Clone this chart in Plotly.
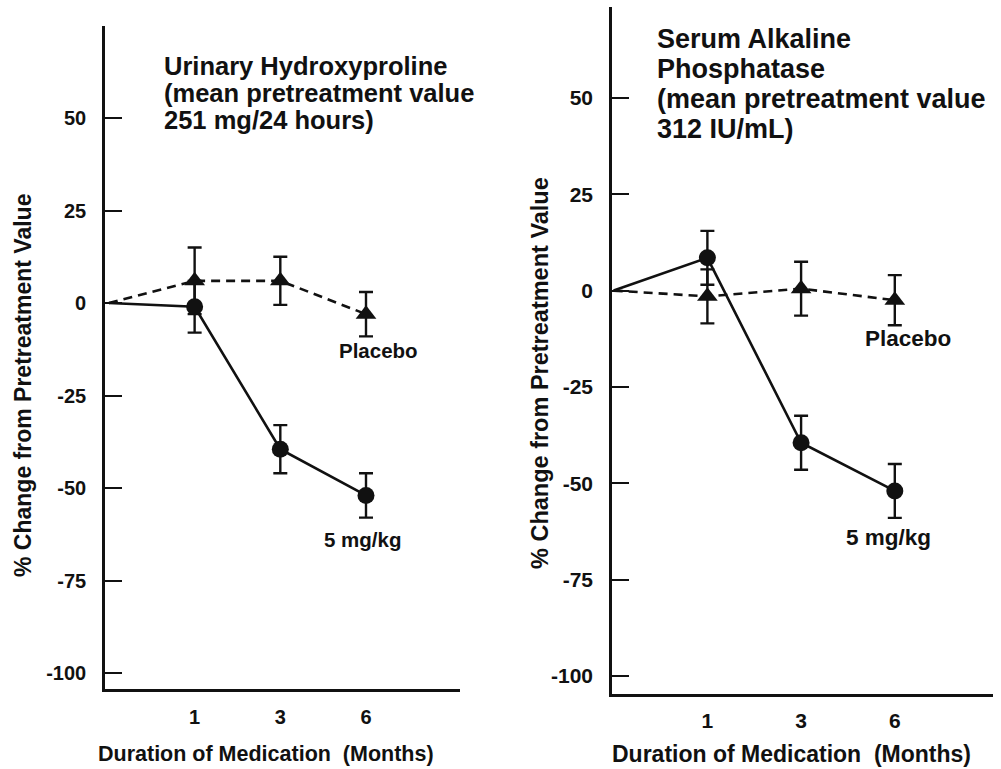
import plotly.graph_objects as go

# ---- data ----
months = [0, 1, 3, 6]                 # sampling times (months); shown at equal spacing
month_labels = ["1", "3", "6"]
y_ticks_left = [-100, -75, -50, -25, 0, 25, 50, 75]
y_ticks_right = [-100, -75, -50, -25, 0, 25, 50]

# Urinary hydroxyproline (% change)
uh_drug = [0, -1, -39.5, -52]
uh_drug_err = [0, 7, 6.5, 6]
uh_placebo = [0, 6, 6, -3]
uh_placebo_err = [0, 9, 6.5, 6]

# Serum alkaline phosphatase (% change)
sap_drug = [0, 8.5, -39.5, -52]
sap_drug_err = [0, 7, 7, 7]
sap_placebo = [0, -1.5, 0.5, -2.5]
sap_placebo_err = [0, 7, 7, 6.5]

pos = list(range(len(months)))  # ordinal positions of the sampling times

W, H = 1001, 769
FONT = "Liberation Sans"
BLACK = "#111111"

fig = go.Figure()


def add_series(xa, ya, vals, errs, dashed, symbol, size):
    fig.add_trace(go.Scatter(
        x=pos, y=vals, mode="lines", xaxis=xa, yaxis=ya,
        line=dict(color=BLACK, width=2.6, dash="9px,6px" if dashed else "solid"),
        showlegend=False, hoverinfo="skip"))
    fig.add_trace(go.Scatter(
        x=pos[1:], y=vals[1:], mode="markers", xaxis=xa, yaxis=ya,
        marker=dict(symbol=symbol, size=size, color=BLACK),
        error_y=dict(type="data", array=errs[1:], visible=True,
                     color=BLACK, thickness=2.4, width=7),
        showlegend=False))


add_series("x", "y", uh_placebo, uh_placebo_err, True, "triangle-up", 18)
add_series("x", "y", uh_drug, uh_drug_err, False, "circle", 17)
add_series("x2", "y2", sap_placebo, sap_placebo_err, True, "triangle-up", 18)
add_series("x2", "y2", sap_drug, sap_drug_err, False, "circle", 17)


# ---- axes geometry (pixel based) ----
def px_x(p):
    return p / W


def px_y(p):
    return 1 - p / H


def tfont(size):
    return dict(family=FONT, size=size, color=BLACK, weight="bold")


xcommon = dict(showline=True, linecolor=BLACK, linewidth=2.6, ticks="",
               showgrid=False, zeroline=False,
               tickvals=pos[1:], ticktext=month_labels)
ycommon = dict(showline=True, linecolor=BLACK, linewidth=2.6, ticks="inside",
               ticklen=17, tickwidth=2.2, tickcolor=BLACK, showgrid=False,
               zeroline=False, ticklabelstandoff=12)

fig.update_layout(
    width=W, height=H,
    margin=dict(l=0, r=0, t=0, b=0),
    paper_bgcolor="white", plot_bgcolor="white",
    xaxis=dict(domain=[px_x(105), px_x(460)], range=[-0.046, 4.097],
               anchor="y", tickfont=tfont(20), ticklabelstandoff=8, **xcommon),
    yaxis=dict(domain=[px_y(689), px_y(25.5)], range=[-104.3, 75],
               anchor="x", tickvals=y_ticks_left,
               ticktext=[str(v) if v != 75 else "" for v in y_ticks_left],
               tickfont=tfont(20), **ycommon),
    xaxis2=dict(domain=[px_x(612), px_x(993)], range=[-0.018, 4.048],
                anchor="y2", tickfont=tfont(21), ticklabelstandoff=6, **xcommon),
    yaxis2=dict(domain=[px_y(694), px_y(7)], range=[-104.7, 73.6],
                anchor="x2", tickvals=y_ticks_right,
                ticktext=[str(v) for v in y_ticks_right],
                tickfont=tfont(21), **ycommon),
)


def note(text, x, y, size, xanchor="center", angle=0):
    fig.add_annotation(text=text, x=px_x(x), y=px_y(y), xref="paper",
                       yref="paper", showarrow=False, xanchor=xanchor,
                       yanchor="middle", textangle=angle, font=tfont(size))


# panel titles
for i, line in enumerate(["Urinary Hydroxyproline", "(mean pretreatment value",
                          "251 mg/24 hours)"]):
    note(line, 162, 66 + 27 * i, 25.5, xanchor="left")
for i, line in enumerate(["Serum Alkaline", "Phosphatase",
                          "(mean pretreatment value", "312 IU/mL)"]):
    note(line, 655, 39 + 30 * i, 27, xanchor="left")

# series labels
note("Placebo", 378, 350, 20.5)
note("5 mg/kg", 362, 539, 20.5)
note("Placebo", 908, 338, 22.5)
note("5 mg/kg", 888, 537, 22.5)

# axis titles
note("% Change from Pretreatment Value", 23, 386, 23, angle=-90)
note("% Change from Pretreatment Value", 540, 373, 23.5, angle=-90)
note("Duration of Medication\u00a0\u00a0(Months)", 266, 754, 21.5)
note("Duration of Medication\u00a0\u00a0(Months)", 791, 754, 23)

fig.write_html("out.html",
               config={"displayModeBar": False},
               post_script="document.body.style.margin='0';"
                           "document.body.style.overflow='hidden';")
